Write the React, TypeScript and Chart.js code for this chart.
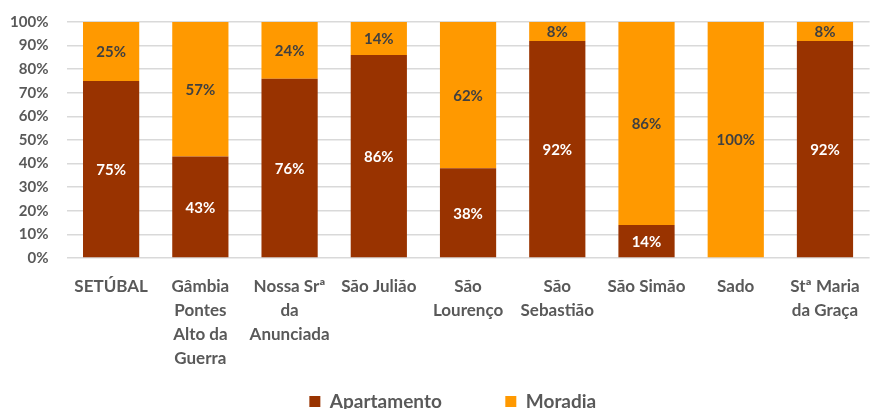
import React, { useEffect, useRef } from "react";
import { Chart, registerables } from "chart.js";

Chart.register(...registerables);

const categories: string[][] = [
  ["SETÚBAL"],
  ["Gâmbia", "Pontes", "Alto da", "Guerra"],
  ["Nossa Srª", "da", "Anunciada"],
  ["São Julião"],
  ["São", "Lourenço"],
  ["São", "Sebastião"],
  ["São Simão"],
  ["Sado"],
  ["Stª Maria", "da Graça"],
];
const apartamento = [75, 43, 76, 86, 38, 92, 14, 0, 92];
const moradia = [25, 57, 24, 14, 62, 8, 86, 100, 8];
const seriesNames = ["Apartamento", "Moradia"];

const FONT = "Lato, 'Open Sans', sans-serif";

const labelPlugin = {
  id: "segLabels",
  afterLayout(chart: any) {
    if (chart.legend) {
      chart.legend.left += 18;
      chart.legend.right += 18;
    }
  },
  afterDatasetsDraw(chart: any) {
    const ctx = chart.ctx;
    ctx.save();
    ctx.font = `bold 15px ${FONT}`;
    ctx.textAlign = "center";
    ctx.textBaseline = "middle";
    chart.data.datasets.forEach((ds: any, di: number) => {
      const meta = chart.getDatasetMeta(di);
      meta.data.forEach((bar: any, i: number) => {
        const v = ds.data[i];
        if (!v) return;
        const { x, y, base } = bar.getProps(["x", "y", "base"], true);
        ctx.fillStyle = di === 0 ? "#ffffff" : "#404040";
        ctx.fillText(v + "%", x, (y + base) / 2 + 1);
      });
    });
    ctx.restore();
  },
};

function zeroPad(scale: any) {
  scale.paddingTop = 0;
  scale.paddingBottom = 0;
  scale.paddingLeft = 0;
  scale.paddingRight = 0;
}

export default function App() {
  const ref = useRef<HTMLCanvasElement>(null);
  useEffect(() => {
    const chart = new Chart(ref.current!, {
      type: "bar",
      data: {
        labels: categories,
        datasets: [
          { label: seriesNames[0], data: apartamento, backgroundColor: "#993300" },
          { label: seriesNames[1], data: moradia, backgroundColor: "#FF9900" },
        ],
      },
      options: {
        animation: false,
        responsive: true,
        maintainAspectRatio: false,
        layout: { padding: { top: 22, right: 3.4, left: 0, bottom: 0 } },
        datasets: { bar: { categoryPercentage: 0.63, barPercentage: 1 } },
        scales: {
          x: {
            stacked: true,
            grid: { display: false, drawTicks: false },
            border: { display: false },
            ticks: {
              autoSkip: false,
              maxRotation: 0,
              padding: 17,
              color: "#595959",
              font: { family: FONT, size: 17, weight: "bold", lineHeight: 1.4 },
            },
            afterFit(scale: any) {
              scale.height = 70.5;
              zeroPad(scale);
              scale._computeLabelArea = () => undefined;
            },
          },
          y: {
            stacked: true,
            min: 0,
            max: 100,
            grid: { color: "#d9d9d9", lineWidth: 1.5, drawTicks: false },
            border: { display: false },
            ticks: {
              stepSize: 10,
              padding: 18,
              color: "#595959",
              font: { family: FONT, size: 15, weight: "bold" },
              callback: (v: any) => v + "%",
            },
            afterFit(scale: any) {
              scale.width = 66.5;
              zeroPad(scale);
            },
          },
        },
        plugins: {
          tooltip: { enabled: false },
          legend: {
            position: "bottom",
            labels: {
              boxWidth: 11,
              boxHeight: 11,
              padding: 63.5,
              color: "#595959",
              font: { family: FONT, size: 19, weight: "bold" },
            },
          },
        },
      },
      plugins: [labelPlugin],
    });
    return () => chart.destroy();
  }, []);
  return (
    <div style={{ position: "fixed", left: 0, top: 0, width: 873, height: 409, overflow: "hidden", background: "#fff" }}>
      <div style={{ position: "relative", width: 873, height: 421 }}>
        <canvas ref={ref} />
      </div>
    </div>
  );
}
